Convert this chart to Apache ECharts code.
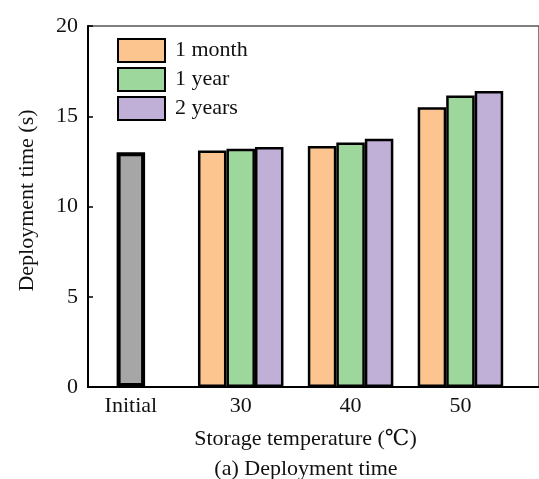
<!DOCTYPE html>
<html>
<head>
<meta charset="utf-8">
<script src="https://cdn.jsdelivr.net/npm/echarts@6/dist/echarts.min.js"></script>
<style>
  html, body { margin: 0; padding: 0; background: #fff; }
  #chart { width: 539px; height: 479px; }
</style>
</head>
<body>
<div id="chart"></div>
<script>
// categories on x (0 = Initial, then storage temperatures)
var xLabels = ['Initial', '30', '40', '50'];
var seriesNames = ['1 month', '1 year', '2 years'];
var initialValue = 13.0;
var month1 = [13.1, 13.35, 15.5];
var year1 = [13.2, 13.55, 16.15];
var years2 = [13.3, 13.75, 16.4];
var yTicks = [0, 5, 10, 15, 20];

var FONT = '"Liberation Serif", "DejaVu Serif", serif';
var colors = ['#fcc590', '#9dd79b', '#c0b0d8'];

function toPoints(arr) {
  return arr.map(function (v, i) { return [i + 1, v]; });
}

var chart = echarts.init(document.getElementById('chart'));

var barStyle = function (c) {
  return { color: c, borderColor: '#000', borderWidth: 2.5 };
};

// the initial bar sits alone in the middle slot so it stays centred
var yearData = [{
  value: [0, initialValue],
  itemStyle: { color: '#a6a6a6', borderColor: '#000', borderWidth: 4 }
}].concat(toPoints(year1));

var option = {
  animation: false,
  backgroundColor: '#fff',
  textStyle: { fontFamily: FONT },
  grid: {
    left: 88,
    right: -3,
    top: 26,
    bottom: 92,
    show: true,
    borderColor: '#555',
    borderWidth: 1.5
  },
  title: {
    text: '(a) Deployment time',
    left: 301,
    top: 453,
    textAlign: 'center',
    textStyle: { fontFamily: FONT, fontSize: 22, fontWeight: 'normal', color: '#111' }
  },
  legend: {
    orient: 'vertical',
    left: 112,
    top: 33,
    itemWidth: 47,
    itemHeight: 23,
    itemGap: 4,
    icon: 'rect',
    data: seriesNames,
    textStyle: { fontFamily: FONT, fontSize: 22, color: '#111', padding: [0, 0, 0, 5] }
  },
  xAxis: {
    type: 'value',
    min: -0.39,
    max: 3.715,
    name: 'Storage temperature (\u2103)',
    nameLocation: 'middle',
    nameGap: 41,
    nameTextStyle: { fontFamily: FONT, fontSize: 22, color: '#111', padding: [0, 16, 0, 0] },
    axisLine: { show: true, onZero: false, lineStyle: { color: '#000', width: 2 } },
    axisTick: { show: true, inside: true, length: 5, customValues: [0, 1, 2, 3], lineStyle: { color: '#000', width: 1.5 } },
    axisLabel: {
      customValues: [0, 1, 2, 3],
      margin: 8,
      fontFamily: FONT,
      fontSize: 22,
      color: '#111',
      formatter: function (v) { return xLabels[Math.round(v)]; }
    },
    splitLine: { show: false }
  },
  yAxis: {
    type: 'value',
    min: yTicks[0],
    max: yTicks[yTicks.length - 1],
    interval: 5,
    name: 'Deployment time (s)',
    nameLocation: 'middle',
    nameGap: 50,
    nameTextStyle: { fontFamily: FONT, fontSize: 22, color: '#111', padding: [0, 0, 0, 12] },
    axisLine: { show: true, onZero: false, lineStyle: { color: '#000', width: 2 } },
    axisTick: { show: true, inside: true, length: 5, lineStyle: { color: '#000', width: 1.5 } },
    axisLabel: { margin: 10, fontFamily: FONT, fontSize: 22, color: '#111' },
    splitLine: { show: false }
  },
  series: [
    {
      name: seriesNames[0],
      type: 'bar',
      barWidth: 28.5,
      barGap: '0%',
      itemStyle: barStyle(colors[0]),
      data: toPoints(month1)
    },
    {
      name: seriesNames[1],
      type: 'bar',
      barWidth: 28.5,
      barGap: '0%',
      itemStyle: barStyle(colors[1]),
      data: yearData
    },
    {
      name: seriesNames[2],
      type: 'bar',
      barWidth: 28.5,
      barGap: '0%',
      itemStyle: barStyle(colors[2]),
      data: toPoints(years2)
    }
  ]
};

chart.setOption(option);
</script>
</body>
</html>
